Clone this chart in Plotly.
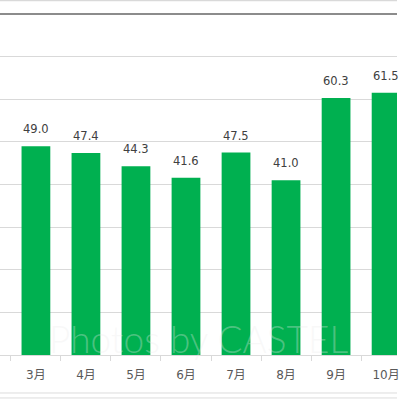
import plotly.graph_objects as go

months = ["3月", "4月", "5月", "6月", "7月", "8月", "9月", "10月"]
values = [49.0, 47.4, 44.3, 41.6, 47.5, 41.0, 60.3, 61.5]

FONT = "DejaVu Sans, Noto Sans CJK JP, sans-serif"
GRID = "#d9d9d9"

fig = go.Figure()
fig.add_trace(go.Bar(
    x=months, y=values,
    marker=dict(color="#00b050", line=dict(width=0)),
    hoverinfo="x+y",
))

# value labels above each bar
for m, v in zip(months, values):
    fig.add_annotation(
        x=m, y=v, text=f"{v:.1f}", showarrow=False,
        yanchor="bottom", yshift=8,
        font=dict(family=FONT, size=11.5, color="#404040"),
    )

# faint watermark
fig.add_annotation(
    x=0.5, y=0.0, xref="paper", yref="paper",
    text="Photos by CASTEL", showarrow=False,
    xanchor="center", yanchor="bottom", yshift=-8,
    font=dict(family="Lato, Open Sans", size=37, color="rgba(235,235,235,0.33)", weight=300),
)

# frame lines
fig.add_shape(type="line", xref="paper", yref="y", x0=0, x1=1, y0=80, y1=80,
              line=dict(color="#8c8c8c", width=2))
fig.add_shape(type="line", xref="paper", yref="paper", x0=0, x1=1, y0=0.998, y1=0.998,
              line=dict(color="#d0d0d0", width=1))
for yy in (-0.107, -0.121):
    fig.add_shape(type="line", xref="paper", yref="paper", x0=0, x1=1, y0=yy, y1=yy,
                  line=dict(color="#dcdcdc", width=1))

fig.update_layout(
    width=400, height=400,
    margin=dict(l=0, r=0, t=0, b=45),
    paper_bgcolor="white", plot_bgcolor="white",
    bargap=0.425, showlegend=False,
    font=dict(family=FONT),
)
fig.update_xaxes(
    range=[-0.718, 7.218],
    ticks="outside", tickson="boundaries", ticklen=5, tickcolor=GRID,
    ticklabelstandoff=9,
    showline=True, linecolor=GRID, linewidth=1,
    tickfont=dict(family=FONT, size=12, color="#595959"),
    showgrid=False,
)
fig.update_yaxes(
    range=[0, 83.28], dtick=10, showticklabels=False,
    gridcolor=GRID, gridwidth=1, zeroline=False,
)

fig.write_html("out.html", config={"displayModeBar": False},
               post_script="document.body.style.margin='0px';")
